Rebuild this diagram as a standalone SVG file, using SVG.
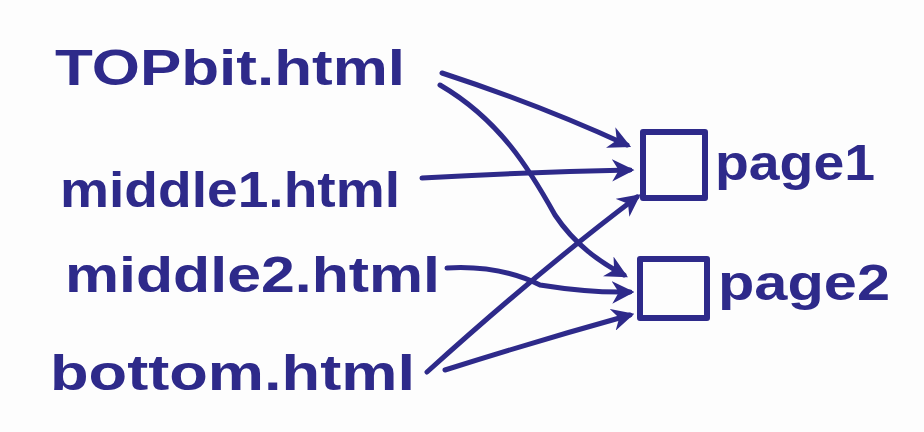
<svg xmlns="http://www.w3.org/2000/svg" width="924" height="432" viewBox="0 0 924 432">
<style>
.lbl{font-family:"Liberation Sans",Arial,sans-serif;font-size:50px;fill:#2e2a8a;font-weight:bold}
.box{fill:none;stroke:#2e2a8a;stroke-width:6;stroke-linejoin:round}
.edge{fill:none;stroke:#2e2a8a;stroke-width:5;stroke-linecap:round;marker-end:url(#ah)}
</style>
<defs>
<marker id="ah" viewBox="0 0 10 10" refX="8" refY="5" markerWidth="4.5" markerHeight="4.5" orient="auto" markerUnits="strokeWidth">
<path d="M0,0 L10,5 L0,10 L3,5 Z" fill="#2e2a8a"/>
</marker>
</defs>
<rect width="924" height="432" fill="#fdfdfd"/>
<g id="connectors">
<path class="edge" d="M442,73 Q540,105 627,145"/>
<path class="edge" d="M440,85 C500,120 530,170 555,215 C575,245 600,262 624,275"/>
<path class="edge" d="M422,178 Q530,172 630,170"/>
<path class="edge" d="M447,268 Q500,265 540,285 Q590,293 630,292"/>
<path class="edge" d="M427,372 Q540,270 637,197"/>
<path class="edge" d="M445,370 Q540,340 630,315"/>
</g>
<g id="n_top"><text class="lbl" x="55" y="85" textLength="350" lengthAdjust="spacingAndGlyphs">TOPbit.html</text></g>
<g id="n_middle1"><text class="lbl" x="60" y="207" textLength="340" lengthAdjust="spacingAndGlyphs">middle1.html</text></g>
<g id="n_middle2"><text class="lbl" x="65" y="292" textLength="375" lengthAdjust="spacingAndGlyphs">middle2.html</text></g>
<g id="n_bottom"><text class="lbl" x="50" y="390" textLength="365" lengthAdjust="spacingAndGlyphs">bottom.html</text></g>
<g id="n_page1"><rect class="box" x="643" y="132" width="62" height="66"/><text class="lbl" x="715" y="180" textLength="160" lengthAdjust="spacingAndGlyphs">page1</text></g>
<g id="n_page2"><rect class="box" x="640" y="259" width="67" height="59"/><text class="lbl" x="718" y="300" textLength="172" lengthAdjust="spacingAndGlyphs">page2</text></g>
</svg>
